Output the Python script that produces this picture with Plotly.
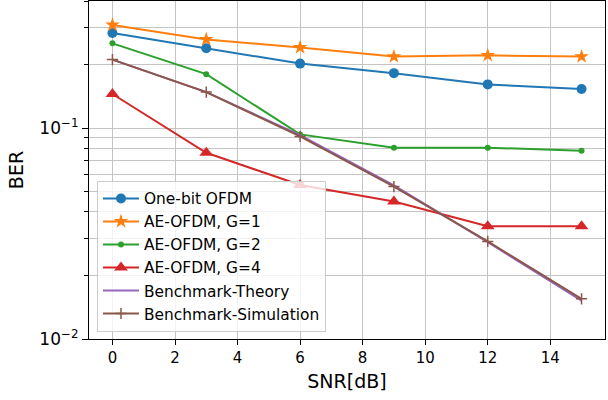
import numpy as np
import plotly.graph_objects as go

snr = [0, 3, 6, 9, 12, 15]
one_bit = [0.282, 0.239, 0.202, 0.182, 0.161, 0.153]
ae_g1 = [0.308, 0.263, 0.241, 0.218, 0.221, 0.218]
ae_g2 = [0.252, 0.180, 0.0933, 0.0807, 0.0807, 0.078]
ae_g4 = [0.145, 0.0763, 0.0537, 0.0448, 0.0342, 0.0342]
bench_theory = [0.211, 0.148, 0.0925, 0.0535, 0.0288, 0.0152]
bench_sim = [0.211, 0.148, 0.0912, 0.0528, 0.0290, 0.0155]

x_ticks = [0, 2, 4, 6, 8, 10, 12, 14]
y_major = [0.01, 0.1]
y_major_text = ["10<sup>−2</sup>", "10<sup>−1</sup>"]
y_minor = [k * 0.01 for k in range(2, 10)] + [k * 0.1 for k in range(2, 5)]

FONT = "DejaVu Sans"
fig = go.Figure()

series = [
    ("One-bit OFDM", one_bit, "#1f77b4", "circle", 10),
    ("AE-OFDM, G=1", ae_g1, "#ff7f0e", "star", 11),
    ("AE-OFDM, G=2", ae_g2, "#2ca02c", "circle", 6),
    ("AE-OFDM, G=4", ae_g4, "#d62728", "triangle-up", 12),
]
for name, ys, col, sym, sz in series:
    fig.add_trace(go.Scatter(x=snr, y=ys, name=name, mode="lines+markers",
                             line=dict(color=col, width=2),
                             marker=dict(symbol=sym, size=sz, color=col)))
fig.add_trace(go.Scatter(x=snr, y=bench_theory, name="Benchmark-Theory", mode="lines",
                         line=dict(color="#9467bd", width=2)))
fig.add_trace(go.Scatter(x=snr, y=bench_sim, name="Benchmark-Simulation", mode="lines+markers",
                         line=dict(color="#8c564b", width=2),
                         marker=dict(symbol="cross-thin", size=8,
                                     line=dict(color="#8c564b", width=1.5))))

fig.update_layout(
    width=608, height=400,
    margin=dict(l=89, r=3, t=1, b=61),
    paper_bgcolor="white", plot_bgcolor="white",
    font=dict(family=FONT, size=15, color="black"),
    showlegend=True,
    legend=dict(x=0.0155, y=0.021, xanchor="left", yanchor="bottom",
                bgcolor="rgba(255,255,255,0.8)", bordercolor="#cccccc", borderwidth=1,
                font=dict(family=FONT, size=15.4), tracegroupgap=0, itemwidth=36),
)
fig.update_xaxes(range=[-0.75, 15.75], tickvals=x_ticks, ticks="outside", ticklen=5,
                 tickfont=dict(size=15), automargin=False,
                 tickcolor="black", showline=True, linecolor="black", linewidth=1.2, mirror=True,
                 showgrid=True, gridcolor="#c4c4c4", gridwidth=1.2, zeroline=False,
                 title=dict(text="SNR[dB]", font=dict(size=19, family=FONT), standoff=8))
fig.update_yaxes(type="log", range=[-2, np.log10(0.4)], tickvals=y_major, ticktext=y_major_text,
                 ticks="outside", ticklen=6, tickcolor="black", tickfont=dict(size=17),
                 automargin=False,
                 showline=True, linecolor="black", linewidth=1.2, mirror=True,
                 showgrid=True, gridcolor="#c4c4c4", gridwidth=1.2, zeroline=False,
                 minor=dict(tickvals=y_minor, ticks="outside", ticklen=4, tickcolor="black",
                            showgrid=True, gridcolor="#c4c4c4", gridwidth=1.2),
                 title=dict(text="BER", font=dict(size=19, family=FONT), standoff=10))

fig.write_html("out.html", config={"displayModeBar": False},
               post_script="document.body.style.margin='0px';")
